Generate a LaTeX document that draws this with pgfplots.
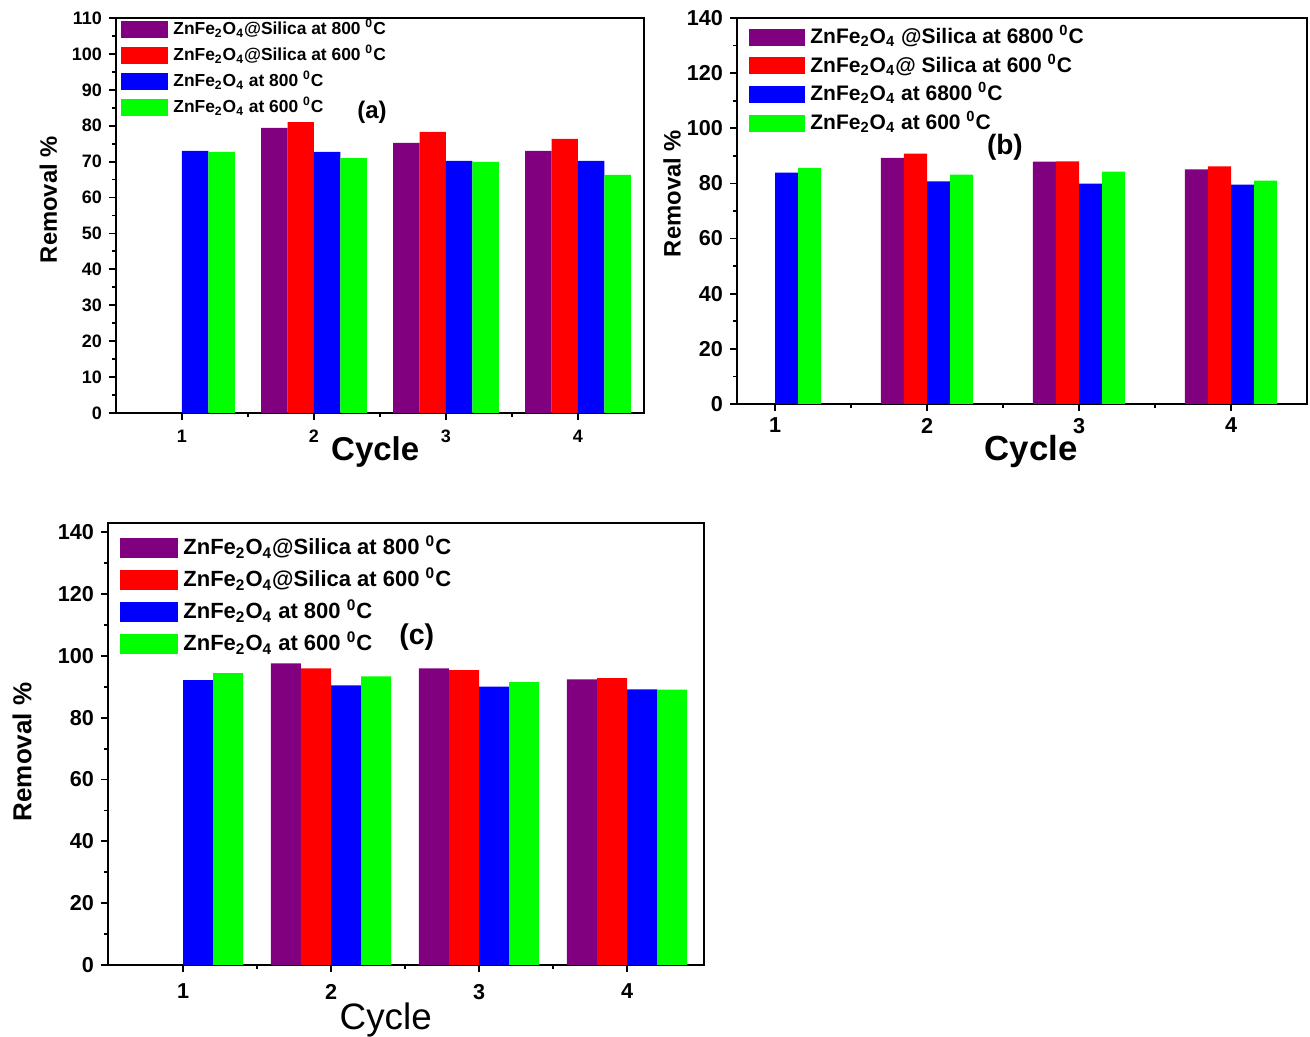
\documentclass[border=0pt]{standalone}
\usepackage{fontspec}
\setmainfont{Liberation Sans}
\usepackage{pgfplots}
\pgfplotsset{compat=1.18}
\definecolor{cpur}{RGB}{128,0,128}
\definecolor{cred}{RGB}{255,0,0}
\definecolor{cblu}{RGB}{0,0,255}
\definecolor{cgrn}{RGB}{0,255,0}
\newcommand{\Lg}[1]{\smash{#1}}
\pgfplotsset{
  panel/.style={
    scale only axis, ymin=0,
    axis line style={line width=1pt},
    xtick={1,2,3,4}, minor x tick num=1, minor y tick num=1,
    xtick pos=bottom, ytick pos=left, tick align=outside,
    major tick length=3.5pt, minor tick length=2pt,
    every tick/.style={line width=0.9pt,black},
    /pgf/number format/assume math mode=true,
    ybar, legend cell align=left,
    y label style={anchor=center, rotate=0},
    x label style={anchor=center},
  }
}
\begin{document}
\begin{tikzpicture}
\useasboundingbox (0,0) rectangle (655pt,518.5pt);
% ---------- (a)
\begin{axis}[panel,
  at={(58pt,312pt)}, anchor=south west,
  width=264pt, height=197.5pt,
  xmin=0.5, xmax=4.5, ymax=110, ytick={0,10,...,110},
  bar width=0.2,
  tick label style={font=\fontsize{9}{10}\selectfont\bfseries},
  xticklabel style={yshift=-1.5pt},
  ylabel={Removal \%}, xlabel={Cycle},
  ylabel style={font=\fontsize{11.9}{13}\selectfont\bfseries, at={(axis description cs:-0.128,0.54)}},
  xlabel style={font=\fontsize{16.5}{18}\selectfont\bfseries, at={(axis description cs:0.491,-0.099)}},
  legend style={at={(0,1)}, anchor=north west, xshift=2.5pt, yshift=-1.5pt, draw=none, fill=none,
    inner sep=0pt, column sep=2.5pt, row sep=4.5pt,
    nodes={inner sep=0pt},
    font=\fontsize{8.7}{10}\selectfont\bfseries},
  legend image code/.code={\fill[#1] (0pt,-1pt) rectangle (23.5pt,7.5pt);},
]
\addplot[fill=cpur, draw=none, bar shift=-0.3] coordinates {(2,79.4) (3,75.2) (4,73.0)};
\addplot[fill=cred, draw=none, bar shift=-0.1] coordinates {(2,81.0) (3,78.3) (4,76.3)};
\addplot[fill=cblu, draw=none, bar shift=0.1] coordinates {(1,73.0) (2,72.7) (3,70.2) (4,70.2)};
\addplot[fill=cgrn, draw=none, bar shift=0.3] coordinates {(1,72.7) (2,71.0) (3,69.9) (4,66.3)};
\legend{\Lg{ZnFe\textsubscript{2}O\textsubscript{4}@Silica at 800 \textsuperscript{0}C},
\Lg{ZnFe\textsubscript{2}O\textsubscript{4}@Silica at 600 \textsuperscript{0}C},
\Lg{ZnFe\textsubscript{2}O\textsubscript{4} at 800 \textsuperscript{0}C},
\Lg{ZnFe\textsubscript{2}O\textsubscript{4} at 600 \textsuperscript{0}C}}
\node[font=\fontsize{12}{13}\selectfont\bfseries] at (axis description cs:0.485,0.762) {(a)};
\end{axis}
% ---------- (b)
\begin{axis}[panel,
  at={(368.5pt,316.5pt)}, anchor=south west,
  width=285pt, height=193pt,
  xmin=0.75, xmax=4.5, ymax=140, ytick={0,20,...,140},
  bar width=0.152,
  tick label style={font=\fontsize{10.8}{12}\selectfont\bfseries},
  ylabel={Removal \%}, xlabel={Cycle},
  ylabel style={font=\fontsize{11.9}{13}\selectfont\bfseries, at={(axis description cs:-0.114,0.545)}},
  xlabel style={font=\fontsize{17.4}{19}\selectfont\bfseries, at={(axis description cs:0.516,-0.122)}},
  legend style={at={(0,1)}, anchor=north west, xshift=6pt, yshift=-5.25pt, draw=none, fill=none,
    inner sep=0pt, column sep=2.5pt, row sep=5.5pt,
    nodes={inner sep=0pt},
    font=\fontsize{10.5}{12}\selectfont\bfseries},
  legend image code/.code={\fill[#1] (0pt,-0.45pt) rectangle (28pt,8.05pt);},
]
\addplot[fill=cpur, draw=none, bar shift=-0.228] coordinates {(2,89.3) (3,87.9) (4,85.1)};
\addplot[fill=cred, draw=none, bar shift=-0.076] coordinates {(2,90.8) (3,88.0) (4,86.2)};
\addplot[fill=cblu, draw=none, bar shift=0.076] coordinates {(1,83.9) (2,80.7) (3,79.9) (4,79.6)};
\addplot[fill=cgrn, draw=none, bar shift=0.228] coordinates {(1,85.6) (2,83.2) (3,84.3) (4,81.0)};
\legend{\Lg{ZnFe\textsubscript{2}O\textsubscript{4} @Silica at 6800 \textsuperscript{0}C},
\Lg{ZnFe\textsubscript{2}O\textsubscript{4}@ Silica at 600 \textsuperscript{0}C},
\Lg{ZnFe\textsubscript{2}O\textsubscript{4} at 6800 \textsuperscript{0}C},
\Lg{ZnFe\textsubscript{2}O\textsubscript{4} at 600 \textsuperscript{0}C}}
\node[font=\fontsize{14}{15}\selectfont\bfseries] at (axis description cs:0.470,0.666) {(b)};
\end{axis}
% ---------- (c)
\begin{axis}[panel,
  at={(54pt,36pt)}, anchor=south west,
  width=298pt, height=221pt,
  xmin=0.493, xmax=4.52, ymax=143, ytick={0,20,...,140},
  bar width=0.203,
  tick label style={font=\fontsize{10.8}{12}\selectfont\bfseries},
  xticklabel style={yshift=-2.5pt},
  ylabel={Removal \%}, xlabel={Cycle},
  ylabel style={font=\fontsize{13}{14}\selectfont\bfseries, at={(axis description cs:-0.144,0.482)}},
  xlabel style={font=\fontsize{18.4}{20}\selectfont, at={(axis description cs:0.466,-0.124)}},
  legend style={at={(0,1)}, anchor=north west, xshift=6pt, yshift=-7.5pt, draw=none, fill=none,
    inner sep=0pt, column sep=2.5pt, row sep=6pt,
    nodes={inner sep=0pt},
    font=\fontsize{11}{12}\selectfont\bfseries},
  legend image code/.code={\fill[#1] (0pt,-1pt) rectangle (29pt,9pt);},
]
\addplot[fill=cpur, draw=none, bar shift=-0.3045] coordinates {(2,97.6) (3,96.0) (4,92.4)};
\addplot[fill=cred, draw=none, bar shift=-0.1015] coordinates {(2,96.0) (3,95.4) (4,92.8)};
\addplot[fill=cblu, draw=none, bar shift=0.1015] coordinates {(1,92.2) (2,90.5) (3,90.1) (4,89.2)};
\addplot[fill=cgrn, draw=none, bar shift=0.3045] coordinates {(1,94.4) (2,93.4) (3,91.5) (4,89.1)};
\legend{\Lg{ZnFe\textsubscript{2}O\textsubscript{4}@Silica at 800 \textsuperscript{0}C},
\Lg{ZnFe\textsubscript{2}O\textsubscript{4}@Silica at 600 \textsuperscript{0}C},
\Lg{ZnFe\textsubscript{2}O\textsubscript{4} at 800 \textsuperscript{0}C},
\Lg{ZnFe\textsubscript{2}O\textsubscript{4} at 600 \textsuperscript{0}C}}
\node[font=\fontsize{14.3}{15}\selectfont\bfseries] at (axis description cs:0.518,0.742) {(c)};
\end{axis}
\end{tikzpicture}
\end{document}
